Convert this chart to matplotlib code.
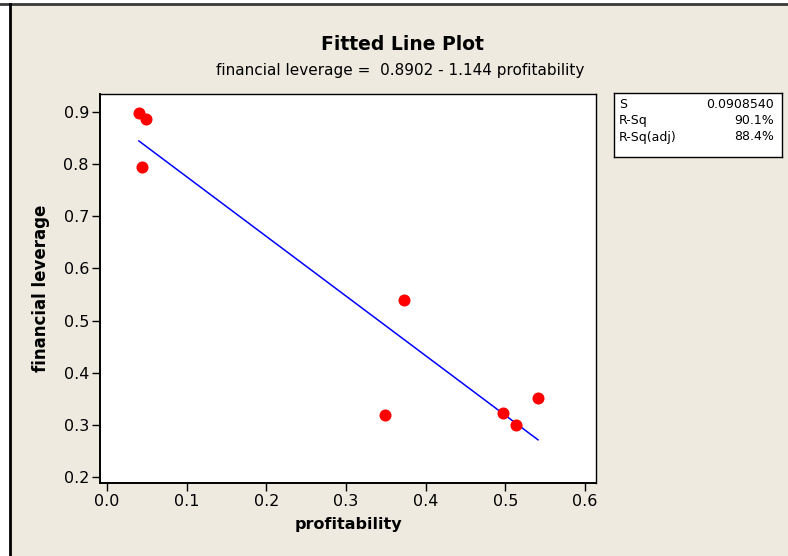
import numpy as np
import matplotlib
matplotlib.use("Agg")
import matplotlib.pyplot as plt
from matplotlib.patches import Rectangle
from matplotlib.lines import Line2D

# data
profitability = [0.040, 0.049, 0.044, 0.373, 0.349, 0.497, 0.513, 0.541]
leverage = [0.898, 0.887, 0.795, 0.539, 0.318, 0.323, 0.299, 0.352]
intercept = 0.8902
slope = -1.144
stat_names = ["S", "R-Sq", "R-Sq(adj)"]
stat_values = ["0.0908540", "90.1%", "88.4%"]
xticks = [0.0, 0.1, 0.2, 0.3, 0.4, 0.5, 0.6]
yticks = [0.2, 0.3, 0.4, 0.5, 0.6, 0.7, 0.8, 0.9]

W, H = 788, 556
bg = "#eeeae0"
fig = plt.figure(figsize=(W / 100, H / 100), dpi=100, facecolor="white")

def px(x0, y0, x1, y1):
    # pixel box (top-left origin) -> figure fraction rect
    return [x0 / W, 1 - y1 / H, (x1 - x0) / W, (y1 - y0) / H]

# beige panel with the dark frame lines on top and left
fig.patches.append(Rectangle((10 / W, 0), 1, 1 - 5 / H, transform=fig.transFigure,
                             facecolor=bg, edgecolor="none", zorder=-10))
fig.lines.append(Line2D([0, 1], [1 - 4 / H] * 2, transform=fig.transFigure,
                        color="#3a3a3a", lw=2, zorder=-5))
fig.lines.append(Line2D([9.5 / W] * 2, [0, 1 - 4 / H], transform=fig.transFigure,
                        color="black", lw=2, zorder=-5))

ax = fig.add_axes(px(100, 94, 596, 483))
ax.set_facecolor("white")
ax.scatter(profitability, leverage, s=75, color="#ff0000", zorder=3, linewidths=0)
xs = np.linspace(min(profitability), max(profitability), 50)
ax.plot(xs, intercept + slope * xs, color="#0000ff", lw=1.1, zorder=2)

ax.set_xlim(-0.0088, 0.6138)
ax.set_ylim(0.1885, 0.9345)
ax.set_xticks(xticks)
ax.set_yticks(yticks)
ax.set_xticklabels([f"{v:.1f}" for v in xticks])
ax.set_yticklabels([f"{v:.1f}" for v in yticks])
ax.tick_params(direction="out", length=6, width=1, labelsize=11.5, pad=2, color="black")
for sp in ["top", "right"]:
    ax.spines[sp].set_linewidth(1)
for sp in ["left", "bottom"]:
    ax.spines[sp].set_linewidth(1.4)
ax.set_xlabel("profitability", fontsize=11.5, fontweight="bold", labelpad=6)
ax.set_ylabel("financial leverage", fontsize=12, fontweight="bold", labelpad=10)

fig.text(402 / W, 1 - 45 / H, "Fitted Line Plot", ha="center", va="center",
         fontsize=13.5, fontweight="bold")
fig.text(400 / W, 1 - 70 / H, "financial leverage =  0.8902 - 1.144 profitability",
         ha="center", va="center", fontsize=11)

# statistics box
bx0, by0, bx1, by1 = 614, 93, 782, 157
box = fig.add_axes(px(bx0, by0, bx1, by1))
box.set_facecolor("white")
box.set_xticks([])
box.set_yticks([])
for sp in box.spines.values():
    sp.set_linewidth(1)
row_px = [104, 120.5, 137]
for n, v, r in zip(stat_names, stat_values, row_px):
    yy = 1 - (r - by0) / (by1 - by0)
    box.text(0.03, yy, n, ha="left", va="center", fontsize=9, transform=box.transAxes)
    box.text(0.95, yy, v, ha="right", va="center", fontsize=9, transform=box.transAxes)

fig.savefig("out.png", dpi=100, facecolor=fig.get_facecolor())
